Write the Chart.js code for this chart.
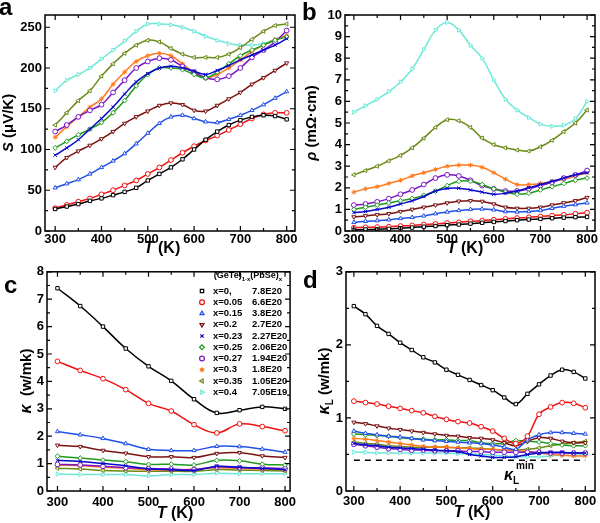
<!DOCTYPE html>
<html>
<head>
<meta charset="utf-8">
<script src="https://cdn.jsdelivr.net/npm/chart.js@4/dist/chart.umd.min.js"></script>
<style>
  body { margin: 0; background: #fff; width: 600px; height: 523px; position: relative; overflow: hidden; }
  canvas { position: absolute; }
</style>
</head>
<body>
<canvas id="pa" width="300" height="261" style="left:0;top:0"></canvas>
<canvas id="pb" width="300" height="261" style="left:300px;top:0"></canvas>
<canvas id="pc" width="300" height="262" style="left:0;top:261px"></canvas>
<canvas id="pd" width="300" height="262" style="left:300px;top:261px"></canvas>
<script>
// temperatures (K)
const temps = [300, 325, 350, 375, 400, 425, 450, 475, 500, 525, 550, 575, 600, 625, 650, 675, 700, 725, 750, 775, 800];
const tempsKappa = [300, 350, 400, 450, 500, 550, 600, 650, 700, 750, 800];
const tempTicks = [300, 400, 500, 600, 700, 800];

// legend order: x=0 ... x=0.4
const labels = ['x=0,', 'x=0.05', 'x=0.15', 'x=0.2', 'x=0.23', 'x=0.25', 'x=0.27', 'x=0.3', 'x=0.35', 'x=0.4'];
const carriers = ['7.8E20', '6.6E20', '3.8E20', '2.7E20', '2.27E20', '2.06E20', '1.94E20', '1.8E20', '1.05E20', '7.05E19'];

// (a) Seebeck coefficient, uV/K
const seebeck = [
  [27, 30, 33, 37, 40, 44, 48, 53, 62, 70, 78, 88, 100, 112, 122, 130, 136, 140, 142, 141, 137],
  [28, 32, 36, 40, 45, 50, 56, 62, 70, 78, 87, 96, 104, 111, 117, 124, 131, 138, 143, 145, 145],
  [53, 58, 63, 70, 78, 86, 95, 107, 120, 132, 140, 142, 138, 134, 133, 137, 142, 148, 155, 163, 171],
  [78, 90, 98, 105, 113, 122, 132, 140, 147, 154, 157, 155, 148, 147, 154, 162, 170, 180, 188, 197, 206],
  [93, 102, 112, 125, 138, 152, 168, 183, 193, 200, 202, 200, 196, 192, 197, 203, 210, 216, 222, 228, 236],
  [102, 110, 118, 125, 133, 145, 160, 178, 192, 200, 200, 198, 192, 188, 195, 205, 215, 222, 228, 234, 238],
  [122, 130, 140, 148, 155, 170, 185, 200, 208, 212, 210, 202, 195, 188, 186, 190, 200, 213, 222, 232, 246],
  [115, 128, 140, 152, 162, 180, 195, 208, 215, 218, 215, 205, 195, 188, 192, 200, 210, 220, 228, 235, 240],
  [130, 145, 160, 172, 190, 205, 218, 228, 234, 232, 224, 217, 213, 213, 213, 217, 225, 235, 245, 252, 254],
  [172, 185, 192, 200, 211, 222, 233, 245, 254, 254, 253, 250, 245, 239, 234, 230, 228, 228, 230, 235, 240]
];

// (b) resistivity, mOhm cm
const resistivity = [
  [0.05, 0.07, 0.08, 0.10, 0.13, 0.16, 0.20, 0.23, 0.27, 0.30, 0.34, 0.38, 0.42, 0.46, 0.50, 0.53, 0.56, 0.59, 0.62, 0.64, 0.65],
  [0.15, 0.17, 0.18, 0.20, 0.23, 0.26, 0.30, 0.33, 0.37, 0.40, 0.45, 0.48, 0.52, 0.56, 0.60, 0.63, 0.67, 0.71, 0.75, 0.80, 0.85],
  [0.40, 0.45, 0.48, 0.52, 0.58, 0.63, 0.70, 0.80, 0.88, 0.95, 1.00, 1.02, 0.98, 0.90, 0.88, 0.90, 0.95, 1.05, 1.15, 1.22, 1.30],
  [0.65, 0.70, 0.75, 0.80, 0.90, 1.00, 1.10, 1.20, 1.30, 1.38, 1.40, 1.37, 1.25, 1.10, 1.05, 1.05, 1.10, 1.20, 1.30, 1.40, 1.55],
  [0.85, 0.90, 1.00, 1.10, 1.25, 1.40, 1.60, 1.85, 1.97, 1.98, 1.90, 1.80, 1.70, 1.75, 1.85, 2.00, 2.15, 2.30, 2.45, 2.60, 2.70],
  [1.00, 1.10, 1.20, 1.30, 1.40, 1.50, 1.65, 1.85, 2.10, 2.30, 2.30, 2.15, 1.95, 1.80, 1.70, 1.75, 1.90, 2.05, 2.20, 2.35, 2.45],
  [1.20, 1.25, 1.35, 1.50, 1.70, 1.90, 2.15, 2.45, 2.60, 2.55, 2.35, 2.10, 1.95, 1.85, 1.85, 1.95, 2.10, 2.25, 2.45, 2.60, 2.80],
  [1.80, 1.95, 2.05, 2.20, 2.35, 2.55, 2.70, 2.85, 3.00, 3.05, 3.05, 2.95, 2.70, 2.40, 2.15, 2.15, 2.20, 2.30, 2.40, 2.55, 2.70],
  [2.60, 2.80, 3.00, 3.25, 3.50, 3.85, 4.30, 4.80, 5.15, 5.10, 4.80, 4.30, 4.00, 3.85, 3.75, 3.70, 3.90, 4.20, 4.60, 5.00, 5.60],
  [5.50, 5.80, 6.10, 6.45, 6.90, 7.50, 8.40, 9.30, 9.65, 9.30, 8.60, 8.00, 7.00, 6.10, 5.60, 5.25, 4.95, 4.85, 4.90, 5.20, 6.00]
];

// (c) total thermal conductivity, W/mK
const kappa = [
  [7.40, 6.75, 6.00, 5.20, 4.55, 4.02, 3.35, 2.85, 2.95, 3.07, 3.00],
  [4.73, 4.40, 4.10, 3.70, 3.20, 2.92, 2.42, 2.12, 2.45, 2.35, 2.20],
  [2.17, 2.05, 1.92, 1.73, 1.52, 1.48, 1.48, 1.63, 1.62, 1.53, 1.42],
  [1.67, 1.62, 1.48, 1.38, 1.25, 1.25, 1.22, 1.37, 1.40, 1.28, 1.22],
  [1.12, 1.08, 1.00, 0.92, 0.80, 0.78, 0.75, 0.90, 0.87, 0.82, 0.78],
  [1.27, 1.20, 1.13, 1.07, 0.97, 0.98, 0.95, 1.12, 1.10, 0.98, 0.95],
  [0.97, 0.95, 0.90, 0.85, 0.82, 0.80, 0.78, 0.88, 0.85, 0.85, 0.82],
  [0.95, 0.92, 0.87, 0.83, 0.78, 0.76, 0.80, 0.85, 0.82, 0.80, 0.78],
  [0.83, 0.80, 0.75, 0.73, 0.72, 0.72, 0.72, 0.78, 0.76, 0.75, 0.73],
  [0.62, 0.60, 0.60, 0.60, 0.55, 0.60, 0.60, 0.65, 0.63, 0.63, 0.63]
];

// (d) lattice thermal conductivity, W/mK
const kappaLattice = [
  [2.53, 2.42, 2.26, 2.15, 2.03, 1.93, 1.83, 1.76, 1.66, 1.59, 1.52, 1.45, 1.38, 1.28, 1.19, 1.33, 1.46, 1.58, 1.66, 1.63, 1.54],
  [1.23, 1.21, 1.19, 1.16, 1.13, 1.10, 1.07, 1.02, 0.98, 0.95, 0.93, 0.88, 0.82, 0.72, 0.65, 0.75, 1.05, 1.15, 1.21, 1.20, 1.14],
  [0.82, 0.79, 0.77, 0.75, 0.74, 0.72, 0.70, 0.69, 0.68, 0.67, 0.66, 0.65, 0.63, 0.60, 0.57, 0.70, 0.77, 0.80, 0.80, 0.79, 0.78],
  [0.94, 0.92, 0.89, 0.86, 0.84, 0.82, 0.80, 0.78, 0.76, 0.75, 0.73, 0.72, 0.70, 0.66, 0.62, 0.68, 0.73, 0.72, 0.68, 0.66, 0.66],
  [0.65, 0.63, 0.62, 0.60, 0.59, 0.58, 0.57, 0.56, 0.55, 0.54, 0.50, 0.48, 0.46, 0.46, 0.47, 0.50, 0.52, 0.53, 0.53, 0.52, 0.52],
  [0.78, 0.77, 0.76, 0.75, 0.73, 0.72, 0.71, 0.70, 0.70, 0.69, 0.69, 0.66, 0.65, 0.65, 0.69, 0.68, 0.67, 0.65, 0.63, 0.62, 0.62],
  [0.64, 0.62, 0.60, 0.58, 0.57, 0.56, 0.56, 0.55, 0.55, 0.55, 0.54, 0.54, 0.53, 0.53, 0.53, 0.53, 0.53, 0.52, 0.52, 0.52, 0.52],
  [0.72, 0.71, 0.69, 0.67, 0.65, 0.63, 0.61, 0.60, 0.60, 0.59, 0.58, 0.57, 0.57, 0.56, 0.55, 0.54, 0.52, 0.50, 0.49, 0.48, 0.48],
  [0.67, 0.65, 0.64, 0.62, 0.61, 0.60, 0.60, 0.60, 0.60, 0.59, 0.59, 0.58, 0.57, 0.56, 0.56, 0.57, 0.59, 0.62, 0.64, 0.66, 0.68],
  [0.53, 0.53, 0.52, 0.52, 0.52, 0.52, 0.52, 0.52, 0.52, 0.51, 0.51, 0.50, 0.49, 0.48, 0.47, 0.47, 0.47, 0.48, 0.49, 0.49, 0.50]
];
const kappaMinTemps = [300, 800];
const kappaMin = [0.42, 0.42];

// styles
const colors = ['#000000', '#f01010', '#2050e8', '#7a1212', '#0808c8', '#1f9a1f', '#7a14c8', '#ff7a1e', '#6b8a18', '#6de8d8'];
const shapes = ['rect', 'circle', 'triangle', 'triangle', 'crossRot', 'rectRot', 'circle', 'star', 'triangle', 'triangle'];
const turns = [0, 0, 0, 180, 0, 0, 0, 0, -90, 90];

const FONT = '"Liberation Sans", Arial, sans-serif';
const B = (s, it) => (it ? 'italic ' : '') + 'bold ' + s + 'px ' + FONT;

function makeSets(rows, xs) {
  return rows.map((vals, i) => ({
    label: labels[i],
    data: vals.map((v, j) => ({ x: xs[j], y: v })),
    borderColor: colors[i],
    backgroundColor: '#fff',
    pointBorderColor: colors[i],
    pointBackgroundColor: '#fff',
    pointStyle: shapes[i],
    rotation: turns[i],
    pointRadius: 2.4,
    pointBorderWidth: 1,
    borderWidth: 1.5,
    tension: 0.4
  }));
}

// text made of several pieces [text, font, dy], centred at x,y
function rich(ctx, parts, x, y, rot) {
  ctx.save();
  ctx.translate(x, y);
  ctx.rotate(rot || 0);
  ctx.textBaseline = 'middle';
  ctx.textAlign = 'left';
  let w = 0;
  parts.forEach(p => { ctx.font = p[1]; w += ctx.measureText(p[0]).width; });
  let cx = -w / 2;
  parts.forEach(p => { ctx.font = p[1]; ctx.fillText(p[0], cx, p[2] || 0); cx += ctx.measureText(p[0]).width; });
  ctx.restore();
}

const deco = {
  pa: { letter: ['a', -1, 15], yMinor: 25, yMajor: 50, yTop: 250,
        xt: [[['T', B(16, 1)], [' (K)', B(16)]], 162, 249],
        yt: [[['S', B(15, 1)], [' (\u03bcV/K)', B(15)]], 9, 123] },
  pb: { letter: ['b', 2, 20], yMinor: 0.5, yMajor: 1, yTop: 10,
        xt: [[['T', B(16, 1)], [' (K)', B(16)]], 165, 249],
        yt: [[['\u03c1', B(15, 1)], [' (m\u03a9\u00b7cm)', B(15)]], 12, 123] },
  pc: { letter: ['c', 4, 32], yMinor: 0.5, yMajor: 1, yTop: 8,
        xt: [[['T', B(16, 1)], [' (K)', B(16)]], 175, 253],
        yt: [[['\u03ba', B(16, 1)], ['  (w/mk)', B(15)]], 27, 120], legend: true },
  pd: { letter: ['d', 3, 27], yMinor: 0.5, yMajor: 1, yTop: 3,
        xt: [[['T', B(16, 1)], [' (K)', B(16)]], 172, 252],
        yt: [[['\u03ba', B(16, 1)], ['L', B(10), 5], [' (w/mk)', B(15)]], 25, 120], kmin: true }
};

const frame = {
  id: 'frame',
  afterDraw(chart) {
    const d = deco[chart.canvas.id];
    const { ctx, chartArea: a } = chart;
    const sx = chart.scales.x, sy = chart.scales.y;
    ctx.save();
    ctx.strokeStyle = '#000';
    ctx.fillStyle = '#000';
    ctx.lineWidth = 1.2;
    ctx.beginPath();
    for (let i = 0; i <= 10; i++) {
      const px = sx.getPixelForValue(300 + i * 50);
      const L = i % 2 === 0 ? 5 : 3;
      ctx.moveTo(px, a.bottom); ctx.lineTo(px, a.bottom - L);
      ctx.moveTo(px, a.top); ctx.lineTo(px, a.top + L);
    }
    const n = Math.round(d.yTop / d.yMinor);
    const per = Math.round(d.yMajor / d.yMinor);
    for (let i = 0; i <= n; i++) {
      const py = sy.getPixelForValue(i * d.yMinor);
      const L = i % per === 0 ? 5 : 3;
      ctx.moveTo(a.left, py); ctx.lineTo(a.left + L, py);
      ctx.moveTo(a.right, py); ctx.lineTo(a.right - L, py);
    }
    ctx.stroke();
    ctx.lineWidth = 1.5;
    ctx.strokeRect(a.left, a.top, a.right - a.left, a.bottom - a.top);

    ctx.font = B(24);
    ctx.textBaseline = 'alphabetic';
    ctx.fillText(d.letter[0], d.letter[1], d.letter[2]);
    rich(ctx, d.xt[0], d.xt[1], d.xt[2], 0);
    rich(ctx, d.yt[0], d.yt[1], d.yt[2], -Math.PI / 2);

    if (d.legend) {
      rich(ctx, [['(GeTe)', B(9)], ['1-x', B(6), 3], ['(PbSe)', B(9)], ['x', B(6), 3]], 248, 15, 0);
      labels.forEach((lab, i) => {
        const y = 30 + i * 11.25;
        ctx.strokeStyle = colors[i];
        ctx.fillStyle = '#fff';
        ctx.lineWidth = 1.2;
        Chart.helpers.drawPoint(ctx, { pointStyle: shapes[i], rotation: turns[i], radius: 2.4, borderWidth: 1.2 }, 202, y);
        ctx.fillStyle = '#000';
        ctx.font = B(9.5);
        ctx.textBaseline = 'middle';
        ctx.textAlign = 'left';
        ctx.fillText(lab, 213, y);
        ctx.fillText(carriers[i], 252, y);
      });
    }
    if (d.kmin) {
      ctx.fillStyle = '#000';
      ctx.textBaseline = 'alphabetic';
      ctx.textAlign = 'left';
      ctx.font = B(16, 1);
      ctx.fillText('\u03ba', 204, 219);
      ctx.font = B(10);
      ctx.fillText('min', 216, 208);
      ctx.fillText('L', 213, 223);
    }
    ctx.restore();
  }
};

function axis(min, max, ticks, size, pad) {
  return {
    type: 'linear', min: min, max: max,
    afterBuildTicks: s => { s.ticks = ticks.map(v => ({ value: v })); },
    afterFit: s => { if (s.isHorizontal()) s.height = size; else s.width = size; },
    grid: { display: false, drawTicks: false },
    border: { display: false },
    ticks: { color: '#000', padding: pad, autoSkip: false, maxRotation: 0, font: { family: FONT, size: 13, weight: 'bold' } }
  };
}

function panel(id, sets, x, y, pad) {
  new Chart(document.getElementById(id), {
    type: 'line',
    data: { datasets: sets },
    options: {
      responsive: false,
      animation: false,
      events: [],
      layout: { padding: pad },
      plugins: { legend: { display: false }, tooltip: { enabled: false } },
      scales: { x: x, y: y }
    },
    plugins: [frame]
  });
}

panel('pa', makeSets(seebeck, temps),
  axis(278, 818, tempTicks, 30, 1),
  axis(0, 265, [0, 50, 100, 150, 200, 250], 45, 3),
  { left: 0, top: 15, right: 5, bottom: 0 });

panel('pb', makeSets(resistivity, temps),
  axis(281, 817, tempTicks, 30, 1),
  axis(0, 10, [0, 1, 2, 3, 4, 5, 6, 7, 8, 9, 10], 45, 3),
  { left: 0, top: 15, right: 5, bottom: 0 });

panel('pc', makeSets(kappa, tempsKappa),
  axis(277, 811, tempTicks, 32, 4),
  axis(0, 8, [0, 1, 2, 3, 4, 5, 6, 7, 8], 47, 3),
  { left: 0, top: 7, right: 2, bottom: 0 });

const setsD = makeSets(kappaLattice, temps);
setsD.push({
  label: 'kmin',
  data: kappaMinTemps.map((t, j) => ({ x: t, y: kappaMin[j] })),
  borderColor: '#000', borderDash: [6, 5], borderWidth: 1.5, pointRadius: 0, tension: 0
});
panel('pd', setsD,
  axis(283, 821, tempTicks, 32, 3),
  axis(0, 3, [0, 1, 2, 3], 46, 3),
  { left: 0, top: 7, right: 3, bottom: 0 });
</script>
</body>
</html>
